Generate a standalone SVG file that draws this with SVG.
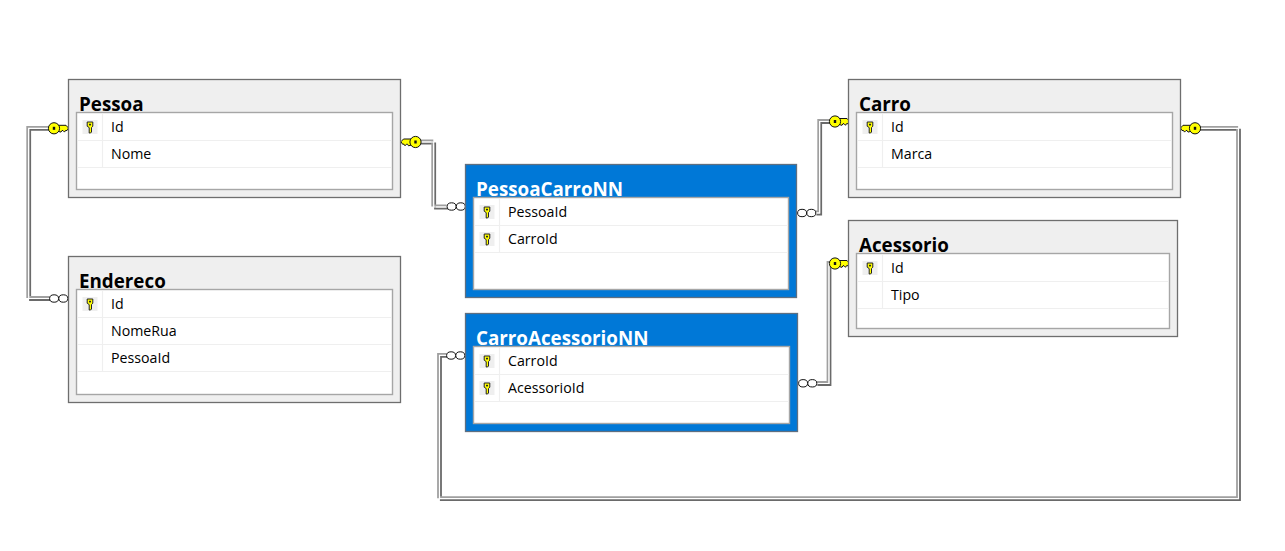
<svg xmlns="http://www.w3.org/2000/svg" width="1285" height="551" viewBox="0 0 1285 551">
<style>
text{font-family:"Open Sans","Noto Sans","Liberation Sans",sans-serif;fill:#000}
.title{font-size:18.8px;font-weight:700}
.sel .title{fill:#fff}
.row{font-size:14.2px}
.outer{fill:#efefef;stroke:#6e6e6e;stroke-width:1.3}
.sel .outer{fill:#0078d7;stroke:#5f6f80}
.panel{fill:#fff;stroke:#a6a6a6;stroke-width:1.4}
.sep{stroke:#efefef;stroke-width:1.2;fill:none}
.keycell{fill:#efefef}
.dark{fill:none;stroke:#6a6a6a;stroke-width:2;transform:translate(1.4px,1.4px)}
.light{fill:none;stroke:#a0a0a0;stroke-width:2;transform:translate(-1.4px,-1.4px)}
.mid{fill:none;stroke:#fff;stroke-width:1.2}
</style>
<defs>
<g id="smallkey"><rect x="-7.5" y="-7" width="15" height="14" class="keycell"/><path d="M-2.8-5H2.8V-.8L1.5 .6V5L.5 6H-.8V.6L-2.8-.8Z" fill="#ffff00" stroke="#222" stroke-width="1"/><rect x="-1" y="-3.2" width="2" height="1.6" fill="#222"/></g>
<g id="bigkey"><path d="M10-3H18L20.5 -.3L19 2.2H17.5L16.5 3.8L15 2.2H14L13 3.8L10 3Z" fill="#ffff00" stroke="#111" stroke-width="1"/><circle cx="6" cy="0" r="5.6" fill="#ffff00" stroke="#111" stroke-width="1"/><rect x="4.8" y="-1.5" width="2.4" height="3" fill="#111"/></g>
<g id="crow"><ellipse cx="4.6" cy="0" rx="4.5" ry="3.7" fill="#fff" stroke="#111" stroke-width="1"/><ellipse cx="13.8" cy="0" rx="4.5" ry="3.7" fill="#fff" stroke="#111" stroke-width="1"/></g>
<path id="c1" d="M52 128.3H28.7V298.5H51"/>
<path id="c2" d="M418 142H433.7V207H448"/>
<path id="c3" d="M833 121.5H819.7V213H815"/>
<path id="c4" d="M833 263.5H829V383.5H816"/>
<path id="c5" d="M1197 128.3H1238.5V498.7H439.5V355.3H448"/>
</defs>
<rect width="1285" height="551" fill="#fff"/>
<g id="connectors">
<g id="conn-pessoa-endereco"><use href="#c1" class="dark"/><use href="#c1" class="light"/><use href="#c1" class="mid"/><use href="#bigkey" x="48" y="128.3"/><use href="#crow" x="49.5" y="298.5"/></g>
<g id="conn-pessoa-pessoacarro"><use href="#c2" class="dark"/><use href="#c2" class="light"/><use href="#c2" class="mid"/><use href="#bigkey" transform="translate(421.5,142) scale(-1,1)"/><use href="#crow" x="447" y="206.5"/></g>
<g id="conn-carro-pessoacarro"><use href="#c3" class="dark"/><use href="#c3" class="light"/><use href="#c3" class="mid"/><use href="#bigkey" x="829" y="121.5"/><use href="#crow" x="797.5" y="213"/></g>
<g id="conn-acessorio-carroacessorio"><use href="#c4" class="dark"/><use href="#c4" class="light"/><use href="#c4" class="mid"/><use href="#bigkey" x="829" y="263.5"/><use href="#crow" x="798.5" y="383.3"/></g>
<g id="conn-carro-carroacessorio"><use href="#c5" class="dark"/><use href="#c5" class="light"/><use href="#c5" class="mid"/><use href="#bigkey" transform="translate(1201,128.3) scale(-1,1)"/><use href="#crow" x="446.5" y="355.5"/></g>
</g>
<g id="node-pessoa">
<rect class="outer" x="68.5" y="79.5" width="332" height="118"/>
<text class="title" x="79" y="111">Pessoa</text>
<rect class="panel" x="76.5" y="112.5" width="316" height="77"/>
<path class="sep" d="M78 140.5H391M78 167.5H391M102.5 114V167"/>
<use href="#smallkey" x="90" y="127"/>
<text class="row" x="111" y="132">Id</text>
<text class="row" x="111" y="159">Nome</text>
</g>
<g id="node-endereco">
<rect class="outer" x="68.5" y="256.5" width="332" height="146"/>
<text class="title" x="79" y="288">Endereco</text>
<rect class="panel" x="76.5" y="289.5" width="316" height="105"/>
<path class="sep" d="M78 317.5H391M78 344.5H391M78 371.5H391M102.5 291V371"/>
<use href="#smallkey" x="90" y="304"/>
<text class="row" x="111" y="309">Id</text>
<text class="row" x="111" y="336">NomeRua</text>
<text class="row" x="111" y="363">PessoaId</text>
</g>
<g id="node-pessoacarronn" class="sel">
<rect class="outer" x="465.5" y="164.5" width="331" height="133"/>
<text class="title" x="476" y="196">PessoaCarroNN</text>
<rect class="panel" x="473.5" y="197.5" width="315" height="92"/>
<path class="sep" d="M475 225.5H788M475 252.5H788M499.5 199V252"/>
<use href="#smallkey" x="487" y="212"/>
<use href="#smallkey" x="487" y="239"/>
<text class="row" x="508" y="217">PessoaId</text>
<text class="row" x="508" y="244">CarroId</text>
</g>
<g id="node-carroacessorionn" class="sel">
<rect class="outer" x="465.5" y="313.5" width="332" height="118"/>
<text class="title" x="476" y="345">CarroAcessorioNN</text>
<rect class="panel" x="473.5" y="346.5" width="316" height="77"/>
<path class="sep" d="M475 374.5H789M475 401.5H789M499.5 348V401"/>
<use href="#smallkey" x="487" y="361"/>
<use href="#smallkey" x="487" y="388"/>
<text class="row" x="508" y="366">CarroId</text>
<text class="row" x="508" y="393">AcessorioId</text>
</g>
<g id="node-carro">
<rect class="outer" x="848.5" y="79.5" width="332" height="118"/>
<text class="title" x="859" y="111">Carro</text>
<rect class="panel" x="856.5" y="112.5" width="316" height="77"/>
<path class="sep" d="M858 140.5H1171M858 167.5H1171M882.5 114V167"/>
<use href="#smallkey" x="870" y="127"/>
<text class="row" x="891" y="132">Id</text>
<text class="row" x="891" y="159">Marca</text>
</g>
<g id="node-acessorio">
<rect class="outer" x="848.5" y="220.5" width="329" height="116"/>
<text class="title" x="859" y="252">Acessorio</text>
<rect class="panel" x="856.5" y="253.5" width="313" height="75"/>
<path class="sep" d="M858 281.5H1168M858 308.5H1168M882.5 255V308"/>
<use href="#smallkey" x="870" y="268"/>
<text class="row" x="891" y="273">Id</text>
<text class="row" x="891" y="300">Tipo</text>
</g>
</svg>
